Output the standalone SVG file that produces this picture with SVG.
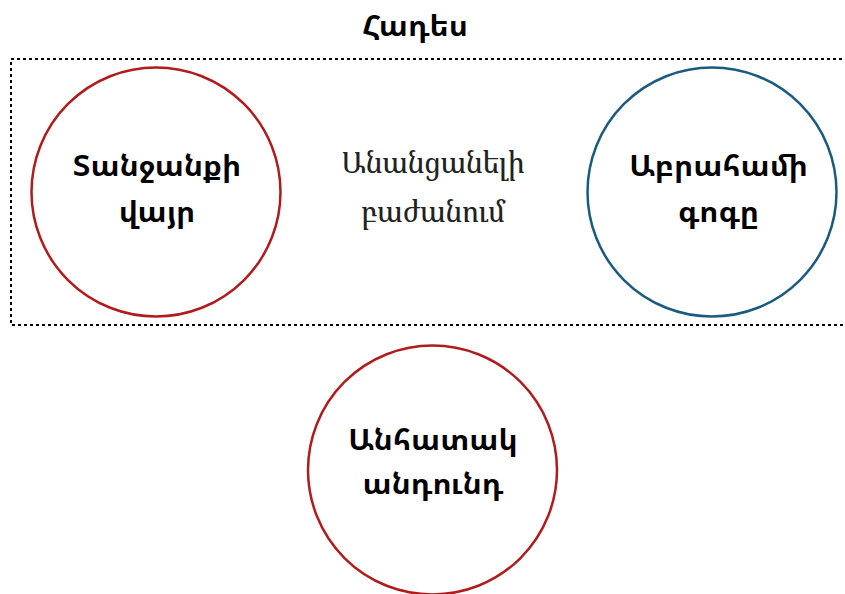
<svg xmlns="http://www.w3.org/2000/svg" width="845" height="594" viewBox="0 0 845 594">
<style>
.b{font-family:"Noto Sans","Noto Sans Armenian","DejaVu Sans",sans-serif;font-weight:bold;font-size:30px;fill:#000;text-anchor:middle}
.s{font-family:"Noto Serif Armenian","DejaVu Serif",serif;font-size:29px;fill:#222;text-anchor:middle}
.c{fill:none;stroke-width:2.5}
</style>
<rect width="845" height="594" fill="#fff"/>
<g id="title"><text class="b" x="415" y="36">Հադես</text></g>
<g id="region"><rect x="11" y="59" width="850" height="266" fill="none" stroke="#000" stroke-width="2" stroke-dasharray="3,3"/>
<text class="s" x="433" y="173">Անանցանելի</text>
<text class="s" x="433" y="222">բաժանում</text></g>
<g id="n1"><circle class="c" cx="156" cy="192" r="124.5" stroke="#b01c1c"/>
<text class="b" x="157" y="176">Տանջանքի</text>
<text class="b" x="157" y="222">վայր</text></g>
<g id="n2"><circle class="c" cx="712" cy="192" r="124.5" stroke="#1b5a7f"/>
<text class="b" x="718.5" y="176">Աբրահամի</text>
<text class="b" x="718.5" y="222">գոգը</text></g>
<g id="n3"><circle class="c" cx="432.5" cy="470" r="124.5" stroke="#b01c1c"/>
<text class="b" x="433" y="450">Անհատակ</text>
<text class="b" x="433" y="494">անդունդ</text></g>
<g id="connectors"/>
</svg>
